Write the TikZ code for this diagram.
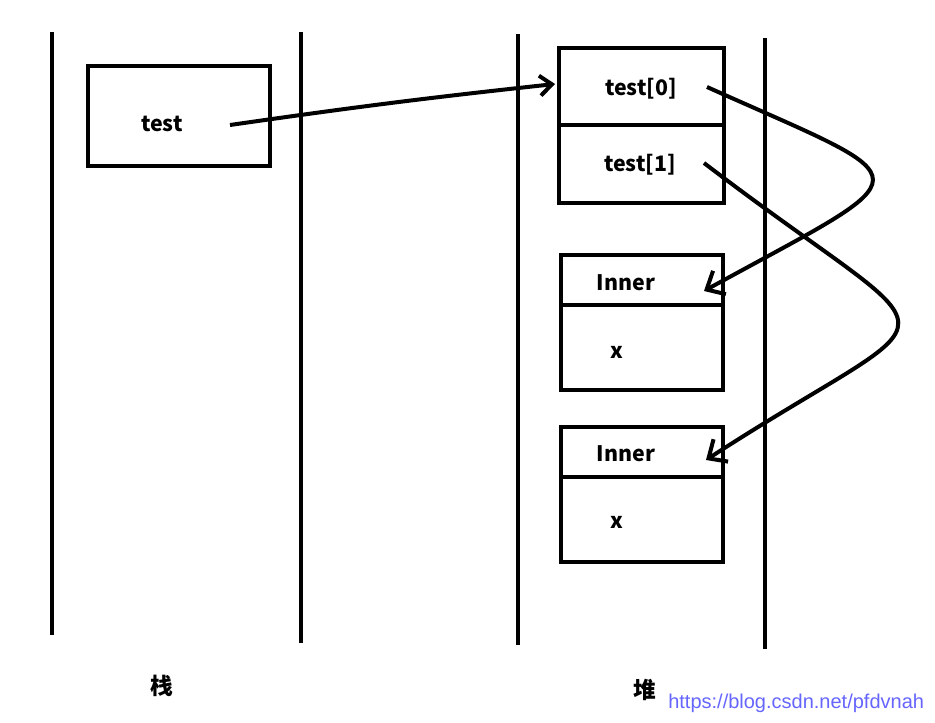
\documentclass[tikz,border=0pt]{standalone}
\usepackage{fontspec}
\setmainfont{Noto Sans}
\newfontfamily\cjk{Noto Sans CJK SC}
\newfontfamily\urlfont{Liberation Sans}
\usetikzlibrary{arrows.meta}
\definecolor{urlblue}{RGB}{102,102,255}
\begin{document}
\begin{tikzpicture}[x=0.75pt,y=-0.75pt,
  wall/.style={line width=3pt},
  box/.style={draw,line width=3pt,inner sep=0pt},
  lbl/.style={font=\cjk\fontsize{16}{20}\selectfont\bfseries},
  cjklbl/.style={font=\cjk\fontsize{17}{20}\selectfont\bfseries},
  link/.style={line width=3pt,-{Straight Barb[length=11pt,width=20pt,line width=3pt]}}]
\useasboundingbox[fill=white] (0,0) rectangle (935,723);
% walls
\draw[wall] (52,32) -- (52,635);
\draw[wall] (301,32) -- (301,643);
\draw[wall] (518,34) -- (518,645);
\draw[wall] (765,38) -- (765,649);
% stack box
\node[box,minimum width=136.5pt,minimum height=75pt] (testbox) at (179,116) {};
\node[lbl] (testlbl) at (162,124) {test};
% array box
\node[box,minimum width=123.75pt,minimum height=116.25pt] (arr) at (641.5,125.5) {};
\draw[line width=3pt] (arr.west) -- (arr.east);
\node[lbl] (t0) at (641,89) {test[0]};
\node[lbl] (t1) at (640,165) {test[1]};
% inner boxes
\node[box,minimum width=121.5pt,minimum height=101.25pt] (in1) at (642,322.5) {};
\draw[line width=3pt] ([yshift=-39pt]in1.north west) -- ([yshift=-39pt]in1.north east);
\node[lbl] (in1t) at (626,283) {Inner};
\node[lbl] (in1x) at (617,352) {x};
\node[box,minimum width=121.5pt,minimum height=101.25pt] (in2) at (642,494) {};
\draw[line width=3pt] ([yshift=-39pt]in2.north west) -- ([yshift=-39pt]in2.north east);
\node[lbl] (in2t) at (626,454) {Inner};
\node[lbl] (in2x) at (617,522) {x};
% labels
\node[cjklbl] (zhan) at (162,686) {栈};
\node[cjklbl] (dui) at (645,690) {堆};
\node[font=\urlfont\fontsize{15}{18}\selectfont,text=urlblue,anchor=west,inner sep=0pt] (url) at (668,703) {https://blog.csdn.net/pfdvnah};
% connectors
\coordinate (s0) at (230,125);
\coordinate (e0) at (555,84);
\coordinate (s1) at (707,87);
\coordinate (e1) at (704,291);
\coordinate (s2) at (704,163);
\coordinate (e2) at (706,460);
\draw[line width=3pt,-{Straight Barb[length=9pt,width=15pt,line width=3pt]}] (s0) to[bend left=1] (e0);
\draw[link] (s1) .. controls (928,186) and (928,168) .. (e1);
\draw[link] (s2) .. controls (962,360) and (962,294) .. (e2);
\end{tikzpicture}
\end{document}
